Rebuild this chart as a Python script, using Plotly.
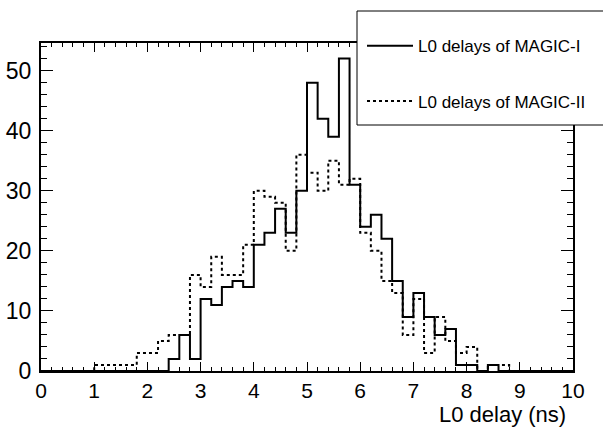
import plotly.graph_objects as go

# Bin edges: 50 bins of 0.2 ns from 0 to 10
bin_width = 0.2
bin_low = [round(i * bin_width, 1) for i in range(50)]

magic1 = [0, 0, 0, 0, 0, 0, 0, 0, 0, 0,
          0, 0, 2, 6, 2, 12, 11, 14, 15, 14,
          21, 23, 27, 23, 30, 48, 42, 39, 52, 31,
          24, 26, 22, 15, 9, 13, 9, 6, 7, 1,
          1, 0, 1, 0, 0, 0, 0, 0, 0, 0]

magic2 = [0, 0, 0, 0, 0, 1, 1, 1, 1, 3,
          3, 5, 6, 6, 16, 14, 19, 16, 16, 21,
          30, 29, 28, 20, 36, 33, 30, 35, 31, 32,
          23, 20, 15, 13, 6, 12, 3, 9, 5, 3,
          4, 0, 1, 1, 0, 0, 0, 0, 0, 0]

names = ["L0 delays of MAGIC-I", "L0 delays of MAGIC-II"]
x_ticks = list(range(0, 11))
y_ticks = [0, 10, 20, 30, 40, 50]

xs = bin_low + [10.0]
FONT = "Liberation Sans, Arial, Helvetica, sans-serif"

fig = go.Figure()
fig.add_trace(go.Scatter(x=xs, y=magic1 + [magic1[-1]], mode="lines", line_shape="hv",
                         line=dict(color="black", width=2), name=names[0], legendgroup="a"))
fig.add_trace(go.Scatter(x=xs, y=magic2 + [magic2[-1]], mode="lines", line_shape="hv",
                         line=dict(color="black", width=2, dash="3px,3px"), name=names[1], legendgroup="b"))

fig.update_layout(
    width=603, height=427,
    margin=dict(l=41, r=30, t=43, b=56, autoexpand=False),
    paper_bgcolor="white", plot_bgcolor="white",
    font=dict(family=FONT, color="black"),
    showlegend=True,
    legend=dict(x=(362 - 41) / 532, y=1.045, xanchor="left", yanchor="top",
                bgcolor="rgba(0,0,0,0)", borderwidth=0,
                font=dict(size=17, family=FONT), tracegroupgap=30,
                itemwidth=46),
    xaxis=dict(range=[0, 10], tickvals=x_ticks, showgrid=False, zeroline=False,
               automargin=False,
               showline=True, linewidth=2, linecolor="black", mirror="allticks",
               ticks="inside", ticklen=9, tickwidth=1, tickcolor="black",
               tickfont=dict(size=21, family=FONT), ticklabelstandoff=0,
               minor=dict(ticks="inside", ticklen=4, dtick=0.2, tickwidth=1, tickcolor="black", showgrid=False)),
    yaxis=dict(range=[0, 54.6], tickvals=y_ticks, showgrid=False, zeroline=False,
               automargin=False,
               showline=True, linewidth=2, linecolor="black", mirror="allticks",
               ticks="inside", ticklen=12, tickwidth=1, tickcolor="black",
               tickfont=dict(size=23, family=FONT), ticklabelstandoff=3,
               minor=dict(ticks="inside", ticklen=6, dtick=2, tickwidth=1, tickcolor="black", showgrid=False)),
    shapes=[dict(type="rect", xref="paper", yref="paper",
                 x0=(357 - 41) / 532, x1=(610 - 41) / 532,
                 y0=(371 - 125) / 328, y1=(371 - 11) / 328,
                 line=dict(color="black", width=1), fillcolor="white", layer="above")],
    annotations=[dict(text="L0 delay (ns)", xref="paper", yref="paper", x=(568 - 41) / 532,
                      y=(371 - 414) / 328,
                      xanchor="right", yanchor="middle", showarrow=False,
                      font=dict(size=22, family=FONT))],
)

fig.write_html("out.html")
